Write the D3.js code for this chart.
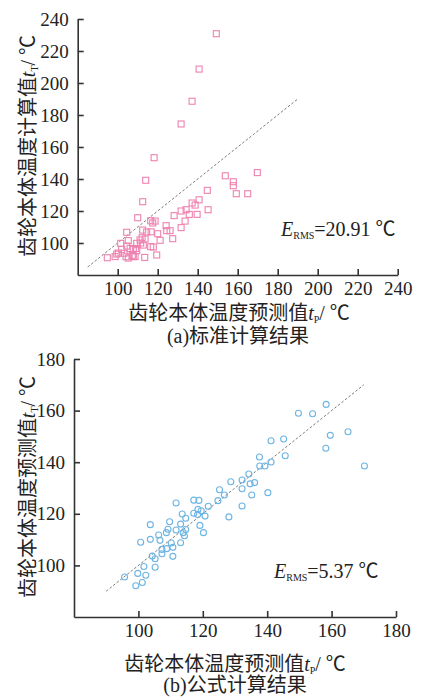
<!DOCTYPE html>
<html>
<head>
<meta charset="utf-8">
<script src="https://cdn.jsdelivr.net/npm/d3@7"></script>
<style>
  body { margin: 0; background: #fff; }
  text { font-family: "Liberation Serif", "Noto Sans CJK SC", serif; fill: #222; }
</style>
</head>
<body>
<script>
// (a) standard calculation: [predicted tP, calculated tT]
const standardPoints = [
  [149.3, 230.8], [140.7, 208.7], [137.2, 188.6], [131.7, 174.4], [118.2, 153.3], [114, 139.2], [112.5, 125.8],
  [153.8, 142], [169.8, 144], [157.8, 138.3], [157.8, 135.8], [159.3, 130.8], [165, 130.8], [144.8, 132.9],
  [140.7, 127], [137.2, 125], [138.7, 123.7], [145.2, 120.8], [134.2, 120.8], [131.7, 120], [135.8, 117.9],
  [139.7, 117.9], [133.7, 113.7], [128.2, 117.1], [131.7, 109.6], [124.2, 110.8], [124.5, 107.7], [126.2, 107.7],
  [127.5, 102.7], [118.7, 113.7], [117.5, 112.5], [116.5, 113.9], [116.7, 107], [120, 105.8], [121.2, 101.7],
  [117.8, 97.5], [119.5, 92.5], [116.5, 97.7], [113.5, 91], [114.5, 106.9], [112.5, 108.1], [112.8, 98.7],
  [112.2, 103.3], [110, 115.8], [111.2, 101.9], [111.5, 100], [113.7, 102.5], [109.5, 99.8], [109, 96.6],
  [107.8, 91.5], [106.2, 96.6], [105.3, 101.5], [104.5, 106.7], [104.2, 91.4], [101.5, 99.8], [99.5, 93.1],
  [98.7, 91.5], [94.8, 90.8], [100.3, 93.7], [104.5, 98.1], [102, 96], [107.8, 96], [109.5, 95.2],
  [103.2, 93.6], [105.3, 90.6], [107.3, 92.3], [108.7, 91.5]
];

// (b) formula calculation: [predicted tP, measured tT]
const formulaPoints = [
  [95.7, 95.5], [99.2, 92.1], [99.8, 96.9], [101.2, 93.4], [102.3, 96.2], [101.7, 99.6], [100.7, 109],
  [103.7, 115.8], [103.7, 110.1], [104.3, 103.6], [105.2, 102.6], [105.2, 99.3], [106.3, 111.8], [106.7, 109.7],
  [107.3, 106.2], [107.3, 104.5], [108.7, 112.7], [109.2, 114], [109.7, 116.9], [108.8, 106.5], [110.2, 108.7],
  [110.7, 107], [110.7, 103.5], [111.7, 124.2], [111.7, 113.7], [113.1, 116], [113.1, 108.8], [113.6, 119.9],
  [113.9, 112.7], [114.3, 111.5], [114.7, 118.3], [114.7, 113.9], [117.2, 125.3], [118.8, 125.2], [117.2, 120.2],
  [118.5, 121.7], [118.4, 119.7], [119.1, 115.5], [119.5, 121.2], [120.2, 112.7], [120.7, 119.1], [121.7, 122.9],
  [124.7, 125.1], [125.2, 129.3], [126.7, 127.3], [128.1, 118.8], [128.7, 132.4], [132.2, 133.1], [132.2, 129.7],
  [132.2, 123], [134.3, 135.4], [134.7, 131.6], [135.2, 127.3], [136.1, 132.1], [137.6, 142], [137.7, 138.5],
  [139.3, 138.5], [140.2, 128.2], [141.2, 148.3], [141.2, 140.1], [145.1, 149], [145.6, 142.5], [149.7, 159],
  [154.1, 158.8], [158.3, 162.4], [158.2, 145.4], [159.6, 150.4], [165.1, 151.8], [170.2, 138.5]
];

const ticksA = [100, 120, 140, 160, 180, 200, 220, 240];
const ticksB = [100, 120, 140, 160, 180];
const refLineA = [85, 190];
const refLineB = [90, 170];

const width = 422;
const height = 697;

const svg = d3.select("body").append("svg")
  .attr("width", width)
  .attr("height", height);

function drawPanel(opt) {
  const x = d3.scaleLinear().domain(opt.domain).range(opt.xRange);
  const y = d3.scaleLinear().domain(opt.domain).range(opt.yRange);
  const g = svg.append("g");

  // reference line y = x
  g.append("line")
    .attr("x1", x(opt.ref[0])).attr("y1", y(opt.ref[0]))
    .attr("x2", x(opt.ref[1])).attr("y2", y(opt.ref[1]))
    .attr("stroke", "#7a7a7a")
    .attr("stroke-width", 1)
    .attr("stroke-dasharray", "2.5,2");

  // points
  if (opt.shape === "square") {
    g.append("g").selectAll("rect")
      .data(opt.data)
      .join("rect")
      .attr("x", d => x(d[0]) - 3)
      .attr("y", d => y(d[1]) - 3)
      .attr("width", 6)
      .attr("height", 6)
      .attr("fill", "none")
      .attr("stroke", opt.color)
      .attr("stroke-width", 1.1);
  } else {
    g.append("g").selectAll("circle")
      .data(opt.data)
      .join("circle")
      .attr("cx", d => x(d[0]))
      .attr("cy", d => y(d[1]))
      .attr("r", 3)
      .attr("fill", "none")
      .attr("stroke", opt.color)
      .attr("stroke-width", 1.1);
  }

  const xAxis = g.append("g")
    .attr("transform", `translate(0,${opt.yRange[0]})`)
    .call(d3.axisBottom(x).tickValues(opt.ticks).tickSizeInner(-6).tickSizeOuter(0).tickPadding(7));
  const yAxis = g.append("g")
    .attr("transform", `translate(${opt.xRange[0]},0)`)
    .call(d3.axisLeft(y).tickValues(opt.ticks).tickSizeInner(-6).tickSizeOuter(0).tickPadding(9));

  [xAxis, yAxis].forEach(a => {
    a.select(".domain").attr("stroke", "#333").attr("stroke-width", 1.6);
    a.selectAll(".tick line").attr("stroke", "#333").attr("stroke-width", 1.6);
    a.selectAll(".tick text")
      .attr("font-family", "Liberation Serif, serif")
      .attr("font-size", 19)
      .attr("fill", "#222");
  });

  // y axis title (rotated)
  const yt = g.append("text")
    .attr("transform", `translate(${opt.yTitlePos[0]},${opt.yTitlePos[1]}) rotate(-90)`)
    .attr("text-anchor", "middle")
    .attr("font-size", 20);
  yt.append("tspan").text(opt.yTitle);
  yt.append("tspan").attr("font-style", "italic").text("t");
  yt.append("tspan").attr("font-size", 10).attr("dy", 3).text("T");
  yt.append("tspan").attr("dy", -3).text("/ ℃");

  // x axis title
  const xt = g.append("text")
    .attr("x", opt.xTitlePos[0])
    .attr("y", opt.xTitlePos[1])
    .attr("text-anchor", "middle")
    .attr("font-size", 20);
  xt.append("tspan").text("齿轮本体温度预测值");
  xt.append("tspan").attr("font-style", "italic").text("t");
  xt.append("tspan").attr("font-size", 10).attr("dy", 3).text("P");
  xt.append("tspan").attr("dy", -3).text("/ ℃");

  // caption
  g.append("text")
    .attr("x", opt.captionPos[0])
    .attr("y", opt.captionPos[1])
    .attr("text-anchor", "middle")
    .attr("font-size", 20)
    .text(opt.caption);

  // RMS annotation
  const rt = g.append("text")
    .attr("x", opt.rmsPos[0])
    .attr("y", opt.rmsPos[1])
    .attr("font-size", 20);
  rt.append("tspan").attr("font-style", "italic").text("E");
  rt.append("tspan").attr("font-size", 10).attr("dy", 3).text("RMS");
  rt.append("tspan").attr("dy", -3).text("=" + opt.rms + " ℃");
}

drawPanel({
  data: standardPoints,
  domain: [80, 240],
  ticks: ticksA,
  ref: refLineA,
  xRange: [77.7, 397.7],
  yRange: [275, 19],
  shape: "square",
  color: "#ee82b0",
  yTitle: "齿轮本体温度计算值",
  yTitlePos: [35, 146],
  xTitlePos: [239, 320],
  caption: "(a)标准计算结果",
  captionPos: [238, 343],
  rms: "20.91",
  rmsPos: [281, 236]
});

drawPanel({
  data: formulaPoints,
  domain: [80, 180],
  ticks: ticksB,
  ref: refLineB,
  xRange: [74, 396],
  yRange: [617, 359],
  shape: "circle",
  color: "#6db5e3",
  yTitle: "齿轮本体温度预测值",
  yTitlePos: [35, 487],
  xTitlePos: [235, 671],
  caption: "(b)公式计算结果",
  captionPos: [235, 692],
  rms: "5.37",
  rmsPos: [274, 578]
});
</script>
</body>
</html>
